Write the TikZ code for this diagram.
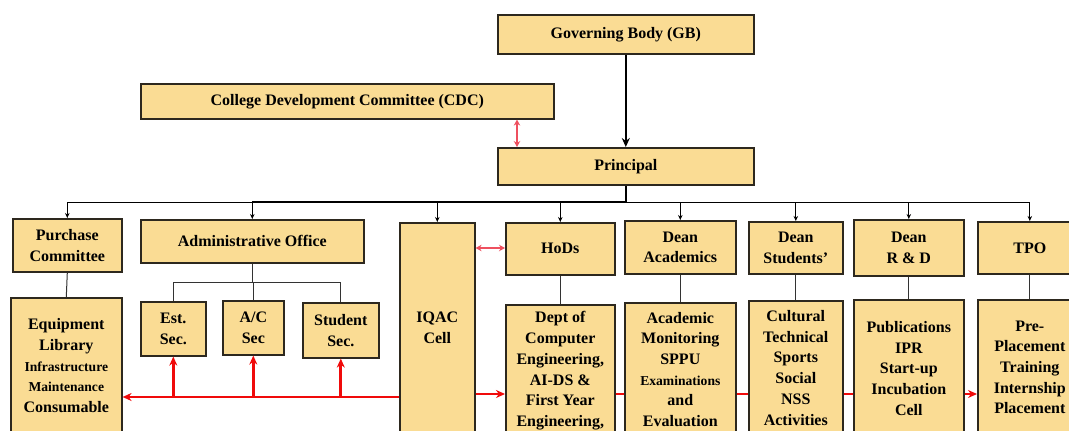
\documentclass[tikz,border=0pt]{standalone}
\usepackage{fontspec}
\setmainfont{Liberation Serif}
\usetikzlibrary{arrows.meta,calc}
\definecolor{boxfill}{RGB}{250,220,148}
\definecolor{boxline}{RGB}{45,40,30}
\definecolor{redline}{RGB}{240,10,10}
\definecolor{pinkline}{RGB}{238,80,95}
\tikzset{
  box/.style={draw=boxline, fill=boxfill, line width=1.6pt, align=center, inner sep=0pt,
    font=\bfseries\fontsize{16}{20.7}\selectfont, anchor=north west},
  thinlink/.style={draw=black!80, line width=1pt},
  downarrow/.style={draw=black, line width=1pt, -{Stealth[length=5pt,width=4.5pt]}},
  redlink/.style={draw=redline, line width=2.8pt},
  redarrow/.style={draw=redline, line width=2.8pt, -{Stealth[length=9pt,width=8pt]}},
  pinkdouble/.style={draw=pinkline, line width=1.8pt, {Stealth[length=6pt,width=6.5pt]}-{Stealth[length=6pt,width=6.5pt]}},
}
\newcommand\bx[6]{\node[box, minimum width={#4pt-#2pt}, minimum height={#5pt-#3pt}] (#1) at (#2,#3) {#6};}
\newcommand\sm{\fontsize{13.6}{18.5}\selectfont}
\begin{document}
\begin{tikzpicture}[x=1pt,y=-1pt]
\useasboundingbox (0,0) rectangle (1069,431);
\clip (0,0) rectangle (1069,431);
% top
\bx{GB}{497}{14}{753}{53}{Governing Body (GB)}
\bx{CDC}{140}{83}{553}{118}{College Development Committee (CDC)}
\bx{Principal}{497}{147}{753}{184}{Principal}
% first row
\bx{Purchase}{12}{218}{121}{271}{Purchase\\Committee}
\bx{Admin}{140}{219}{363}{262}{Administrative Office}
\bx{IQAC}{399}{222}{474}{432}{IQAC\\Cell}
\bx{HoDs}{505}{222}{614}{274}{HoDs}
\bx{DeanAc}{624}{220}{735}{273}{Dean\\Academics}
\bx{DeanSt}{748}{221}{842}{273}{Dean\\Students’}
\bx{DeanRD}{853}{219}{963}{275}{Dean\\R \& D}
\bx{TPO}{977}{221}{1081}{273}{TPO}
% admin sections
\bx{Est}{140}{301}{205}{355}{Est.\\Sec.}
\bx{AC}{222}{300}{283}{354}{A/C\\Sec}
\bx{StuSec}{302}{302}{378}{357}{Student\\Sec.}
% second row
\bx{Equip}{10}{297}{121}{433}{Equipment\\Library\\{\sm Infrastructure}\\{\sm Maintenance}\\Consumable}
\bx{Dept}{505}{304}{614}{436}{Dept of\\Computer\\Engineering,\\AI-DS \&\\First Year\\Engineering,}
\bx{Academic}{624}{302}{735}{435}{Academic\\Monitoring\\SPPU\\{\sm Examinations}\\and\\Evaluation}
\bx{Cultural}{748}{300}{842}{434}{Cultural\\Technical\\Sports\\Social\\NSS\\Activities}
\bx{Pub}{853}{299}{963}{436}{Publications\\IPR\\Start-up\\Incubation\\Cell}
\bx{PreP}{977}{299}{1081}{434}{Pre-\\Placement\\Training\\Internship\\Placement}
% coordinates
\coordinate (busL) at (66,202);
\coordinate (subbus) at (0,282);
\coordinate (redA) at (0,397);
\coordinate (redB) at (0,394);
\coordinate (dbl) at (0,248);
% GB -> Principal
\draw[line width=2.2pt, -{Stealth[length=9pt,width=8pt]}] (GB.south) -- (Principal.north);
% CDC <-> Principal
\draw[pinkdouble] ([xshift=20pt]Principal.north west) -- ([xshift=20pt]Principal.north west |- CDC.south);
% bus
\draw[line width=2.2pt] (Principal.south) -- (Principal.south |- busL);
\draw[line width=1pt] (Purchase.north |- busL) -- (TPO.north |- busL);
\draw[line width=2.2pt] (Admin.north |- busL) -- (Principal.south |- busL);
\foreach \n in {Purchase,Admin,IQAC,HoDs,DeanAc,DeanSt,DeanRD,TPO}
  \draw[downarrow] (\n.north |- busL) -- (\n.north);
% thin links
\draw[thinlink] (Purchase.south) -- (Equip.north);
\draw[thinlink] (Admin.south) -- (Admin.south |- subbus);
\draw[thinlink] (Est.north |- subbus) -- (StuSec.north |- subbus);
\foreach \n in {Est,AC,StuSec}
  \draw[thinlink] (\n.north |- subbus) -- (\n.north);
\draw[thinlink] (HoDs.south) -- (Dept.north);
\draw[thinlink] (DeanAc.south) -- (Academic.north);
\draw[thinlink] (DeanSt.south) -- (Cultural.north);
\draw[thinlink] (DeanRD.south) -- (Pub.north);
\draw[thinlink] (TPO.south) -- (PreP.north);
% red links
\draw[redarrow] (IQAC.west |- redA) -- (Equip.east |- redA);
\foreach \n in {Est,AC,StuSec}
  \draw[redarrow] (\n.south |- redA) -- (\n.south);
\draw[redarrow] (IQAC.east |- redB) -- (Dept.west |- redB);
\draw[redlink] (Dept.east |- redB) -- (Academic.west |- redB);
\draw[redlink] (Academic.east |- redB) -- (Cultural.west |- redB);
\draw[redlink] (Cultural.east |- redB) -- (Pub.west |- redB);
\draw[redarrow] (Pub.east |- redB) -- (PreP.west |- redB);
% IQAC <-> HoDs
\draw[pinkdouble] (IQAC.east |- dbl) -- (HoDs.west |- dbl);
\end{tikzpicture}
\end{document}
